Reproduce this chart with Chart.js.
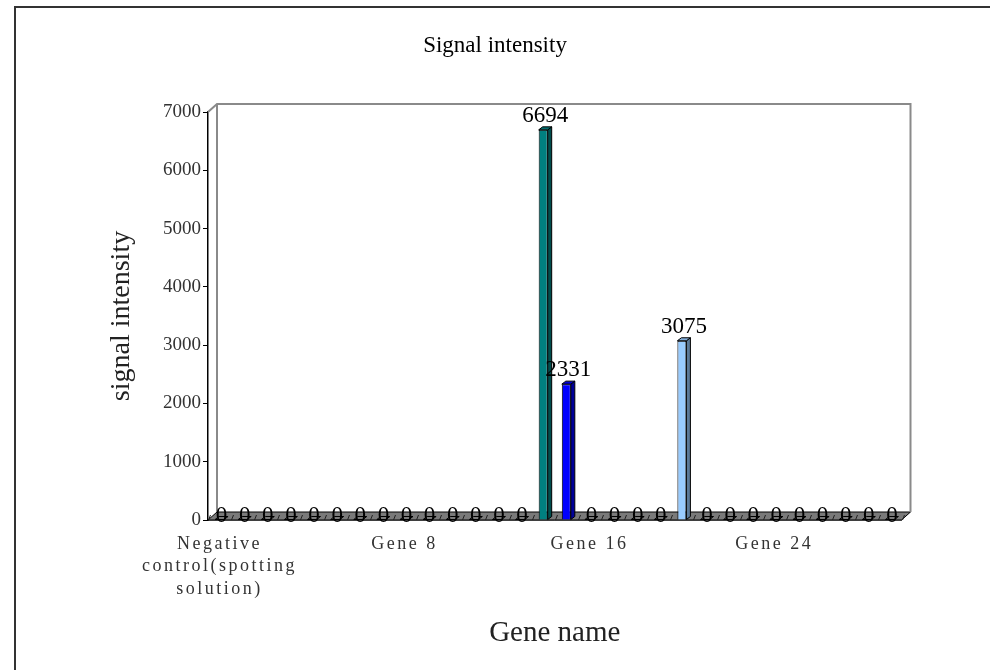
<!DOCTYPE html>
<html>
<head>
<meta charset="utf-8">
<title>Signal intensity</title>
<script src="https://cdn.jsdelivr.net/npm/chart.js@4.4.1/dist/chart.umd.min.js"></script>
<style>
  body { margin: 0; background: #fff; }
  canvas { display: block; }
</style>
</head>
<body>
<canvas id="mycanvas" width="990" height="670"></canvas>
<script>
/* Categories (first one is wrapped on three lines like the original) */
var categories = [
  ["Negative", "control(spotting", "solution)"],
  "Gene 1", "Gene 2", "Gene 3", "Gene 4", "Gene 5", "Gene 6", "Gene 7",
  "Gene 8", "Gene 9", "Gene 10", "Gene 11", "Gene 12", "Gene 13", "Gene 14",
  "Gene 15", "Gene 16", "Gene 17", "Gene 18", "Gene 19", "Gene 20", "Gene 21",
  "Gene 22", "Gene 23", "Gene 24", "Gene 25", "Gene 26", "Gene 27", "Gene 28",
  "Gene 29"
];

/* Signal intensity for each spot */
var signal = [
  0, 0, 0, 0, 0, 0, 0, 0, 0, 0,
  0, 0, 0, 0, 6694, 2331, 0, 0, 0, 0,
  3075, 0, 0, 0, 0, 0, 0, 0, 0, 0
];

/* Value axis */
var yMin = 0;
var yMax = 7000;
var yStep = 1000;

/* Excel "vary colors by point" palette */
var pointColors = [
  '#9999FF', '#993366', '#FFFFCC', '#CCFFFF', '#660066', '#FF8080', '#0066CC', '#CCCCFF',
  '#000080', '#FF00FF', '#FFFF00', '#00FFFF', '#800080', '#800000', '#008080', '#0000FF',
  '#00CCFF', '#CCFFFF', '#CCFFCC', '#FFFF99', '#99CCFF', '#FF99CC', '#CC99FF', '#FFCC99',
  '#3366FF', '#33CCCC', '#99CC00', '#FFCC00', '#FF9900', '#FF6600'
];

var SERIF = 'Liberation Serif';

/* depth of the fake 3D */
var WALL_DX = 9, WALL_DY = 8;
var BAR_DX = 4, BAR_DY = 3;

function shade(hex, f) {
  var n = parseInt(hex.slice(1), 16);
  var r = Math.round(((n >> 16) & 255) * f);
  var g = Math.round(((n >> 8) & 255) * f);
  var b = Math.round((n & 255) * f);
  return 'rgb(' + r + ',' + g + ',' + b + ')';
}

/* Category axis whose labels are drawn letter spaced */
class SpacedCategoryScale extends Chart.CategoryScale {
  drawLabels(chartArea) {
    var ctx = this.ctx;
    ctx.save();
    ctx.letterSpacing = '2.5px';
    super.drawLabels(chartArea);
    ctx.restore();
  }
}
SpacedCategoryScale.id = 'spacedCategory';
SpacedCategoryScale.defaults = Chart.CategoryScale.defaults;
Chart.register(SpacedCategoryScale);

/* frame, back walls, floor, bar sides and value labels */
var excel3d = {
  id: 'excel3d',
  beforeDraw: function(chart) {
    var ctx = chart.ctx;
    ctx.save();
    ctx.fillStyle = '#fff';
    ctx.fillRect(0, 0, chart.width, chart.height);
    ctx.strokeStyle = '#333';
    ctx.lineWidth = 2;
    ctx.beginPath();
    ctx.moveTo(15, chart.height);
    ctx.lineTo(15, 7);
    ctx.lineTo(chart.width, 7);
    ctx.stroke();
    ctx.restore();
  },
  beforeDatasetsDraw: function(chart) {
    var ctx = chart.ctx, a = chart.chartArea;
    var l = a.left, r = a.right, t = a.top, b = a.bottom;
    ctx.save();
    /* floor */
    ctx.fillStyle = '#7a7a7a';
    ctx.beginPath();
    ctx.moveTo(l, b);
    ctx.lineTo(r, b);
    ctx.lineTo(r + WALL_DX, b - WALL_DY);
    ctx.lineTo(l + WALL_DX, b - WALL_DY);
    ctx.closePath();
    ctx.fill();
    ctx.strokeStyle = '#000';
    ctx.lineWidth = 1;
    ctx.stroke();
    /* small marks between categories on the floor */
    var xs = chart.scales.x;
    ctx.beginPath();
    for (var i = 0; i <= categories.length; i++) {
      var px = Math.round(xs.getPixelForValue(i - 0.5)) + 0.5;
      ctx.moveTo(px, b);
      ctx.lineTo(px + 2, b - 5);
    }
    ctx.strokeStyle = '#222';
    ctx.stroke();
    /* back walls */
    ctx.strokeStyle = '#8a8a8a';
    ctx.lineWidth = 2;
    ctx.beginPath();
    ctx.moveTo(l, t);
    ctx.lineTo(l + WALL_DX, t - WALL_DY);
    ctx.lineTo(r + WALL_DX, t - WALL_DY);
    ctx.lineTo(r + WALL_DX, b - WALL_DY);
    ctx.moveTo(l + WALL_DX, t - WALL_DY);
    ctx.lineTo(l + WALL_DX, b - WALL_DY);
    ctx.stroke();
    ctx.restore();
  },
  afterDatasetsDraw: function(chart) {
    var ctx = chart.ctx;
    var meta = chart.getDatasetMeta(0);
    ctx.save();
    ctx.lineWidth = 1;
    ctx.strokeStyle = '#000';
    meta.data.forEach(function(bar, i) {
      var w = bar.width / 2;
      var x0 = bar.x - w, x1 = bar.x + w;
      var y = bar.y, base = bar.base;
      var col = pointColors[i % pointColors.length];
      if (signal[i] !== 0) {
        /* side face */
        ctx.beginPath();
        ctx.moveTo(x1, y);
        ctx.lineTo(x1 + BAR_DX, y - BAR_DY);
        ctx.lineTo(x1 + BAR_DX, base - BAR_DY);
        ctx.lineTo(x1, base);
        ctx.closePath();
        ctx.fillStyle = shade(col, 0.6);
        ctx.fill();
        ctx.stroke();
        /* top face */
        ctx.beginPath();
        ctx.moveTo(x0, y);
        ctx.lineTo(x0 + BAR_DX, y - BAR_DY);
        ctx.lineTo(x1 + BAR_DX, y - BAR_DY);
        ctx.lineTo(x1, y);
        ctx.closePath();
        ctx.fillStyle = shade(col, 0.85);
        ctx.fill();
        ctx.stroke();
      } else {
        /* flat bar seen from above */
        ctx.beginPath();
        ctx.moveTo(x0, base - 0.5);
        ctx.lineTo(x1, base - 0.5);
        ctx.lineTo(x1 + BAR_DX, base - BAR_DY - 0.5);
        ctx.lineTo(x0 + BAR_DX, base - BAR_DY - 0.5);
        ctx.closePath();
        ctx.stroke();
      }
    });
    /* value labels */
    ctx.fillStyle = '#000';
    ctx.font = '23px "' + SERIF + '"';
    ctx.textAlign = 'center';
    ctx.textBaseline = 'middle';
    meta.data.forEach(function(bar, i) {
      var ly = signal[i] === 0 ? bar.y - 4 : bar.y - 14;
      ctx.fillText(String(signal[i]), bar.x + 2, ly);
    });
    ctx.restore();
  }
};

var ctx = document.getElementById('mycanvas');
var barGraph = new Chart(ctx, {
  type: 'bar',
  data: {
    labels: categories,
    datasets: [{
      label: 'signal intensity',
      data: signal,
      backgroundColor: function(c) { return pointColors[c.dataIndex % pointColors.length]; },
      borderColor: '#000',
      borderWidth: 1,
      barPercentage: 0.39,
      categoryPercentage: 1
    }]
  },
  options: {
    responsive: false,
    animation: false,
    layout: { padding: 0 },
    plugins: {
      legend: { display: false },
      tooltip: { enabled: false },
      title: {
        display: true,
        text: 'Signal intensity',
        color: '#000',
        font: { family: SERIF, size: 23, weight: 'normal', lineHeight: 1.2 },
        padding: { top: 32, bottom: 52.4 }
      }
    },
    scales: {
      x: {
        type: 'spacedCategory',
        grid: { display: false },
        border: { display: true, color: '#000', width: 1.5 },
        ticks: {
          autoSkip: false,
          maxRotation: 0,
          minRotation: 0,
          padding: 5,
          color: '#333',
          font: { family: SERIF, size: 18, lineHeight: 1.25 },
          callback: function(v, i) { return i % 8 === 0 ? this.getLabelForValue(v) : ''; }
        },
        title: {
          display: true,
          text: 'Gene name',
          color: '#222',
          font: { family: SERIF, size: 29, weight: 'normal', lineHeight: 1.2 },
          padding: { top: 0, bottom: 19.6 }
        },
        afterFit: function(s) { s.height = 150; }
      },
      y: {
        min: yMin,
        max: yMax,
        grid: { display: true, drawOnChartArea: false, drawTicks: true, tickLength: 5, color: '#000' },
        border: { display: true, color: '#000', width: 1.5 },
        ticks: {
          stepSize: yStep,
          padding: 2,
          color: '#333',
          font: { family: SERIF, size: 19 },
          callback: function(v) { return String(v); }
        },
        title: {
          display: true,
          text: 'signal intensity',
          color: '#222',
          font: { family: SERIF, size: 28, weight: 'normal', lineHeight: 1.2 },
          padding: { top: 104.7, bottom: 0 }
        },
        afterFit: function(s) { s.width = 208; }
      },
      y2: {
        position: 'right',
        display: true,
        grid: { display: false },
        border: { display: false },
        ticks: { display: false },
        afterFit: function(s) { s.width = 88.5; }
      }
    }
  },
  plugins: [excel3d]
});
</script>
</body>
</html>
